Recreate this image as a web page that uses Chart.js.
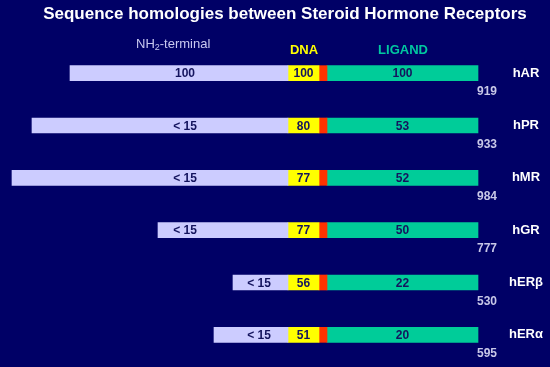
<!DOCTYPE html>
<html>
<head>
<meta charset="utf-8">
<script src="https://cdn.jsdelivr.net/npm/chart.js@4"></script>
<style>
  body { margin: 0; background: #000066; }
  #wrap { width: 550px; height: 367px; }
</style>
</head>
<body>
<div id="wrap"><canvas id="homologyChart"></canvas></div>
<script>
// receptors, top to bottom
const receptors = ['hAR', 'hPR', 'hMR', 'hGR', 'hERβ', 'hERα'];
const lengths = [919, 933, 984, 777, 530, 595];

// domain boundaries (schematic units)
const nh2Start    = [70, 32, 12, 158, 233, 214];
const dnaStart    = [288, 288, 288, 288, 288, 288];
const hingeStart  = [319, 319, 319, 319, 319, 319];
const ligandStart = [327, 327, 327, 327, 327, 327];
const ligandEnd   = [478, 478, 478, 478, 478, 478];

// % homology to hAR
const nh2Homology    = ['100', '< 15', '< 15', '< 15', '< 15', '< 15'];
const dnaHomology    = ['100', '80', '77', '77', '56', '51'];
const ligandHomology = ['100', '53', '52', '50', '22', '20'];

// where the NH2 number sits (same units as above)
const nh2LabelAt = [185, 185, 185, 185, 259, 259];

const span = (a, b) => a.map((v, i) => [v, b[i]]);

const FONT = "'Liberation Sans', Arial, sans-serif";

// draws title, header words and all the numbers
const slideText = {
  id: 'slideText',
  afterDatasetsDraw(chart) {
    const { ctx } = chart;
    const xs = chart.scales.x;
    ctx.save();
    ctx.textBaseline = 'middle';
    ctx.textAlign = 'center';

    ctx.fillStyle = '#ffffff';
    ctx.font = 'bold 17px ' + FONT;
    ctx.fillText('Sequence homologies between Steroid Hormone Receptors', 285, 14);

    // NH2-terminal with subscript 2
    ctx.fillStyle = '#c8c8f0';
    ctx.textAlign = 'left';
    ctx.font = '13px ' + FONT;
    let x0 = 136;
    ctx.fillText('NH', x0, 44);
    x0 += ctx.measureText('NH').width;
    ctx.font = '9px ' + FONT;
    ctx.fillText('2', x0, 48);
    x0 += ctx.measureText('2').width;
    ctx.font = '13px ' + FONT;
    ctx.fillText('-terminal', x0, 44);

    ctx.textAlign = 'center';
    ctx.font = 'bold 13px ' + FONT;
    ctx.fillStyle = '#ffff00';
    ctx.fillText('DNA', 304, 50);
    ctx.fillStyle = '#00c8a0';
    ctx.fillText('LIGAND', 403, 50);

    // numbers inside the bars
    ctx.font = 'bold 12px ' + FONT;
    ctx.fillStyle = '#14145e';
    [0, 1, 3].forEach(d => {
      const ds = chart.data.datasets[d];
      chart.getDatasetMeta(d).data.forEach((bar, i) => {
        const p = bar.getProps(['x', 'y', 'base'], true);
        let cx = (p.x + p.base) / 2;
        if (d === 0) cx = xs.getPixelForValue(nh2LabelAt[i]);
        ctx.fillText(ds.homology[i], cx, p.y + 1);
      });
    });

    // receptor names and lengths on the right
    chart.getDatasetMeta(3).data.forEach((bar, i) => {
      const p = bar.getProps(['x', 'y'], true);
      ctx.fillStyle = '#ffffff';
      ctx.font = 'bold 13px ' + FONT;
      ctx.fillText(receptors[i], p.x + 48, p.y);
      ctx.fillStyle = '#c8c8e8';
      ctx.font = 'bold 12px ' + FONT;
      ctx.fillText(String(lengths[i]), p.x + 9, p.y + 19);
    });
    ctx.restore();
  }
};

new Chart(document.getElementById('homologyChart'), {
  type: 'bar',
  data: {
    labels: receptors,
    datasets: [
      { label: 'NH2-terminal', data: span(nh2Start, dnaStart), backgroundColor: '#ccccff', homology: nh2Homology },
      { label: 'DNA', data: span(dnaStart, hingeStart), backgroundColor: '#ffff00', homology: dnaHomology },
      { label: 'hinge', data: span(hingeStart, ligandStart), backgroundColor: '#ff3300' },
      { label: 'LIGAND', data: span(ligandStart, ligandEnd), backgroundColor: '#00cc99', homology: ligandHomology }
    ]
  },
  options: {
    indexAxis: 'y',
    responsive: true,
    maintainAspectRatio: false,
    animation: false,
    layout: { padding: { top: 47, bottom: 6, left: 0, right: 0 } },
    datasets: {
      bar: { grouped: false, barThickness: 15, borderWidth: 0 }
    },
    scales: {
      x: { type: 'linear', min: 0, max: 550, display: false },
      y: { type: 'category', display: false }
    },
    plugins: {
      legend: { display: false },
      tooltip: { enabled: false },
      title: { display: false }
    }
  },
  plugins: [slideText]
});
</script>
</body>
</html>
